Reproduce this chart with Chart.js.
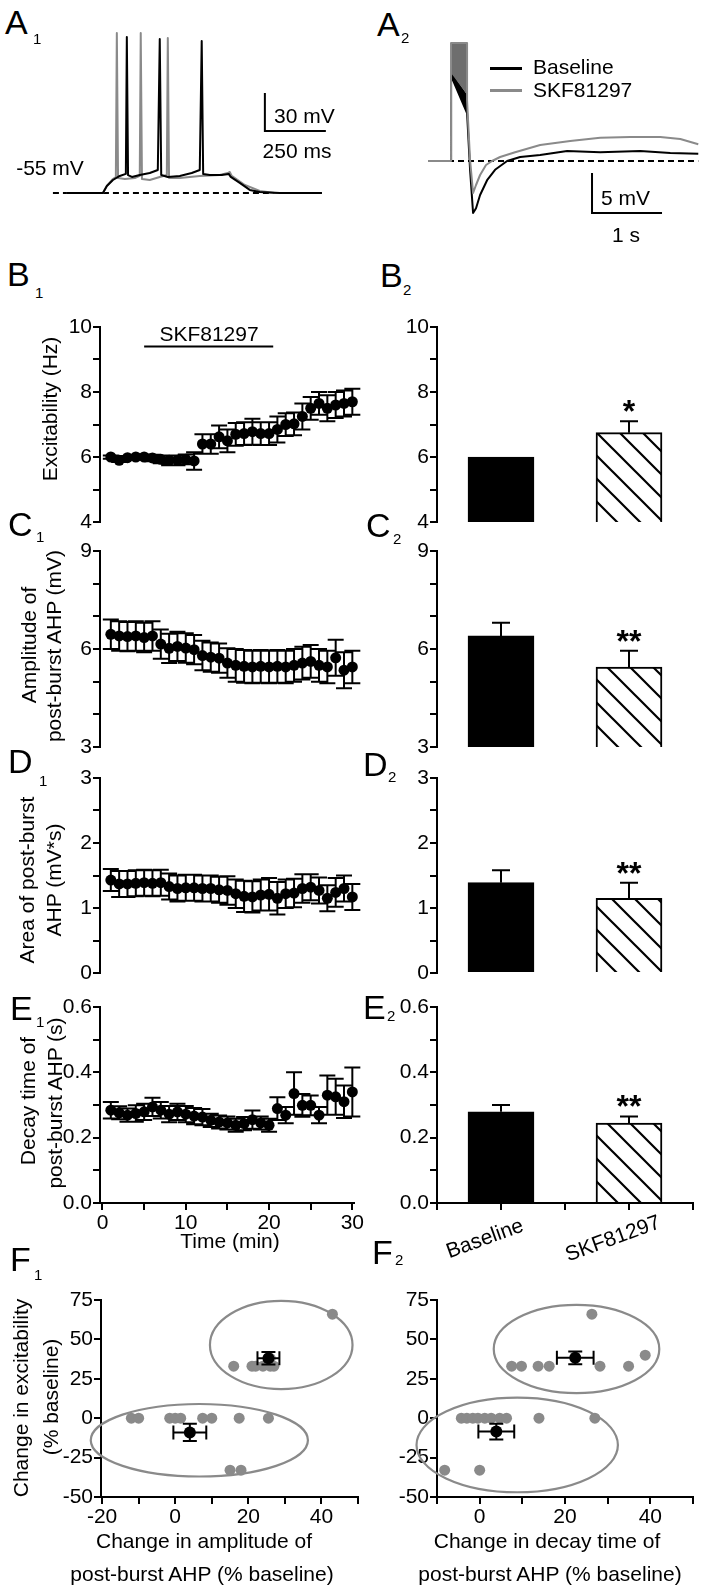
<!DOCTYPE html>
<html>
<head>
<meta charset="utf-8">
<script src="https://cdn.jsdelivr.net/npm/chart.js@4.4.0/dist/chart.umd.min.js"></script>
<style>
  html, body { margin: 0; padding: 0; background: #fff; }
  #fig { position: relative; width: 705px; height: 1591px; overflow: hidden;
         font-family: "Liberation Sans", Arial, sans-serif; color: #000; }
  #fig canvas { position: absolute; }
  .t { position: absolute; white-space: nowrap; line-height: 1; font-size: 21px; }
  .key { position: absolute; height: 3px; }
</style>
</head>
<body>
<div id="fig"></div>
<script>
// ---- A1: spike trains (ms, mV) ----
const a1Baseline = [[0,-55],[148,-55],[164,-49.5],[189,-44.8],[217,-41.6],[242,-40],[246,67.8],[251,-41],
  [267,-42.4],[299,-40.8],[340,-39.3],[373,-36.9],[381,66.2],[387,-40.8],[414,-42.4],[463,-41.6],[512,-39.3],
  [545,-36.9],[553,64.6],[559,-40],[586,-40.8],[635,-40.8],[664,-40],[672,-42.4],[709,-47.1],[750,-52.6],
  [791,-54.2],[873,-55],[1046,-55]];
const a1Skf = [[0,-55],[148,-55],[164,-49.5],[189,-44],[201,-42.4],[205,71],[210,-43.2],[238,-44],[279,-43.2],
  [299,-41.6],[303,71],[308,-44],[340,-44.8],[381,-42.4],[410,-40.8],[414,67],[419,-43.2],[463,-43.2],
  [545,-41.6],[627,-40.8],[660,-39.3],[668,-38.5],[676,-41.6],[730,-48.7],[791,-53.4],[853,-55],[1046,-55]];
const a1Rest = [[-57,-55],[1046,-55]];
const a1ScaleBar = [[812,23.8],[812,-6.2],[1062,-6.2]];

// ---- A2: post-burst AHP (ms, mV from rest) ----
const a2Baseline = [[0,0],[329,0],[330,10.6],[343,10.4],[558,6.0],[601,-1.1],[644,-6.5],[686,-5.9],[744,-4.25],
  [844,-2.4],[958,-1.1],[1130,0],[1316,0.5],[1602,0.75],[1988,1.25],[2460,1.1],[3032,1.25],[3461,1.0],[3861,0.9]];
const a2Skf = [[0,0],[329,0],[329,14.75],[558,14.75],[558,7.6],[601,0.1],[644,-4],[686,-3],[744,-1.75],[829,-0.5],
  [915,0],[1030,0.5],[1244,1.1],[1602,2],[2031,2.5],[2460,2.9],[2889,3],[3318,3],[3604,2.75],[3861,2.1]];
const a2BurstTop = [[329,14.75],[558,14.75]];
const a2BurstLow = [[329,11.0],[558,8.3]];
const a2WedgeTop = [[343,11.0],[558,8.3]];
const a2WedgeLow = [[343,10.4],[558,6.0]];
const a2Rest = [[0,0],[3861,0]];
const a2ScaleBar = [[2343,-1.5],[2343,-6.5],[3343,-6.5]];

// ---- B1-E1: time course ----
const minutes = [1,2,3,4,5,6,7,8,9,10,11,12,13,14,15,16,17,18,19,20,21,22,23,24,25,26,27,28,29,30];
const drugWindow = [5, 20.5];
const excitability = [6.0,5.9,5.98,6.0,6.0,5.97,5.93,5.9,5.9,5.93,5.88,6.4,6.4,6.62,6.5,6.7,6.72,6.78,6.72,6.72,
  6.85,7.0,7.02,7.25,7.5,7.65,7.5,7.6,7.65,7.7];
const excitabilitySem = [0.05,0.05,0.05,0.05,0.08,0.1,0.12,0.15,0.15,0.15,0.27,0.3,0.3,0.35,0.35,0.35,0.35,0.4,
  0.35,0.35,0.4,0.35,0.35,0.4,0.35,0.35,0.4,0.4,0.4,0.4];
const amplitude = [6.45,6.4,6.38,6.4,6.35,6.4,6.15,6.02,6.08,6.03,5.98,5.8,5.75,5.72,5.57,5.5,5.47,5.45,5.47,5.45,
  5.47,5.45,5.5,5.57,5.62,5.5,5.45,5.73,5.35,5.45];
const amplitudeSem = [0.45,0.45,0.45,0.45,0.45,0.45,0.45,0.45,0.45,0.45,0.45,0.45,0.45,0.45,0.45,0.5,0.5,0.5,0.5,
  0.5,0.5,0.5,0.5,0.5,0.5,0.5,0.5,0.55,0.55,0.5];
const ahpArea = [1.43,1.37,1.37,1.38,1.39,1.38,1.39,1.33,1.3,1.31,1.31,1.3,1.3,1.28,1.27,1.22,1.18,1.17,1.2,1.21,
  1.15,1.22,1.23,1.3,1.32,1.27,1.15,1.24,1.3,1.17];
const ahpAreaSem = [0.17,0.2,0.2,0.2,0.2,0.2,0.2,0.2,0.2,0.2,0.2,0.2,0.2,0.2,0.22,0.22,0.24,0.24,0.24,0.25,0.25,
  0.22,0.22,0.22,0.2,0.2,0.2,0.22,0.2,0.2];
const decay = [0.284,0.276,0.269,0.274,0.279,0.294,0.284,0.272,0.279,0.272,0.266,0.263,0.253,0.248,0.245,0.238,
  0.243,0.255,0.245,0.238,0.289,0.269,0.335,0.299,0.299,0.269,0.33,0.325,0.31,0.34];
const decaySem = [0.025,0.02,0.02,0.025,0.025,0.028,0.025,0.025,0.025,0.025,0.025,0.025,0.02,0.02,0.02,0.02,0.02,
  0.028,0.02,0.02,0.035,0.025,0.065,0.035,0.03,0.025,0.06,0.055,0.05,0.075];

// ---- B2-E2: group means ----
const groups = ['Baseline', 'SKF81297'];
const excitMean = [6.0, 6.75],  excitErr = [0, 0.35],    excitSig = ['', '*'];
const ampMean = [6.4, 5.45],    ampErr = [0.4, 0.5],     ampSig = ['', '**'];
const areaMean = [1.39, 1.15],  areaErr = [0.19, 0.24],  areaSig = ['', '**'];
const decayMean = [0.279, 0.245], decayErr = [0.021, 0.02], decaySig = ['', '**'];

// ---- F1/F2: single cells [change in AHP %, change in excitability %] ----
const f1Cells = [[16,33],[21,33],[22,33],[24,33],[26,33],[27,33],[26,38],[43,66],
  [-12,0],[-10,0],[-1.5,0],[0,0],[1.5,0],[7.5,0],[10,0],[17.5,0],[25.5,0],[15,-33],[18,-33]];
const f1Means = [[25.5,38],[4,-9]];
const f1ErrX = [3, 4.5], f1ErrY = [4, 5.5];
const f1Clusters = [[29,46.5,19.5,28],[6.6,-14,29.7,23]];  // centre x, centre y, radius x, radius y
const f2Cells = [[7.5,33],[9.8,33],[13.7,33],[16.3,33],[28.2,33],[34.9,33],[38.8,40],[26.3,66],
  [-4.3,0],[-3,0],[-1.6,0],[-0.4,0],[1.2,0],[2.7,0],[4.7,0],[6.3,0],[13.9,0],[27,0],[-8.2,-33],[0,-33]];
const f2Means = [[22.4,38.3],[3.9,-8.5]];
const f2ErrX = [4.3, 4.2], f2ErrY = [4, 5];
const f2Clusters = [[22.7,43.9,19.4,28],[8.8,-17,23.6,30]];

// ---- tick values ----
const timeTicks = [0,5,10,15,20,25,30];
const excitTicks = [4,5,6,7,8,9,10];
const ampTicks = [3,4,5,6,7,8,9];
const areaTicks = [0,0.5,1,1.5,2,2.5,3];
const decayTicks = [0,0.1,0.2,0.3,0.4,0.5,0.6];
const groupTicks = [0,0.5,1,1.5,2];
const changeYTicks = [-50,-25,0,25,50,75];
const f1XTicks = [-20,-10,0,10,20,30,40,50];
const f2XTicks = [-10,0,10,20,30,40,50];

const FONT = '"Liberation Sans", Arial, sans-serif';
const GRAY = '#8a8a8a';
const PAD_T = 16, PAD_R = 16;

Chart.defaults.font.family = FONT;
Chart.defaults.font.size = 21;
Chart.defaults.color = '#000';
Chart.defaults.animation = false;
Chart.defaults.events = [];
Chart.defaults.plugins.legend.display = false;
Chart.defaults.plugins.tooltip.enabled = false;

const fig = document.getElementById('fig');
const pts = arr => arr.map(([x, y]) => ({ x, y }));

function addCanvas(left, top, w, h) {
  const c = document.createElement('canvas');
  c.width = w; c.height = h;
  c.style.left = left + 'px'; c.style.top = top + 'px';
  c.style.width = w + 'px'; c.style.height = h + 'px';
  fig.appendChild(c);
  return c;
}

function put(text, x, y, opt = {}) {
  const d = document.createElement('div');
  d.className = 't';
  d.textContent = text;
  d.style.left = x + 'px';
  d.style.top = y + 'px';
  if (opt.size) d.style.fontSize = opt.size + 'px';
  let tf = opt.left ? 'translate(0,-50%)' : 'translate(-50%,-50%)';
  if (opt.rot) tf += ' rotate(' + opt.rot + 'deg)';
  d.style.transform = tf;
  fig.appendChild(d);
}

function panelLabel(letter, sub, x, capTop, sx, subTop) {
  put(letter, x, capTop + 12, { left: true, size: 34 });
  put(sub, sx, subTop + 5, { left: true, size: 15 });
}

// hatch fill for the drug bars
function makeHatch() {
  const s = 23, tile = document.createElement('canvas');
  tile.width = tile.height = s;
  const g = tile.getContext('2d');
  g.fillStyle = '#fff'; g.fillRect(0, 0, s, s);
  g.strokeStyle = '#000'; g.lineWidth = 2.2;
  g.beginPath();
  g.moveTo(-3, -3); g.lineTo(s + 3, s + 3);
  g.moveTo(s - 4, -4); g.lineTo(s + 4, 4);
  g.moveTo(-4, s - 4); g.lineTo(4, s + 4);
  g.stroke();
  return g.createPattern(tile, 'repeat');
}
const hatch = makeHatch();

// error bars, drawn just before their own dataset
const errorBars = {
  id: 'errorBars',
  beforeDatasetDraw(chart, args) {
    const ds = chart.data.datasets[args.index];
    if (!ds.errY && !ds.errX) return;
    const ctx = chart.ctx, xs = args.meta.xScale, ys = args.meta.yScale;
    const cap = ds.cap || 8;
    const seg = (x1, y1, x2, y2) => { ctx.moveTo(x1, y1); ctx.lineTo(x2, y2); };
    ctx.save();
    ctx.strokeStyle = '#000';
    ctx.lineWidth = 2;
    ctx.beginPath();
    ds.data.forEach((p, i) => {
      const px = xs.getPixelForValue(p.x), py = ys.getPixelForValue(p.y);
      const ey = ds.errY ? ds.errY[i] : 0;
      if (ey) {
        const top = ys.getPixelForValue(p.y + ey);
        const bot = ds.upOnly ? py : ys.getPixelForValue(p.y - ey);
        seg(px, top, px, bot);
        seg(px - cap, top, px + cap, top);
        if (!ds.upOnly) seg(px - cap, bot, px + cap, bot);
      }
      const ex = ds.errX ? ds.errX[i] : 0;
      if (ex) {
        const l = xs.getPixelForValue(p.x - ex), r = xs.getPixelForValue(p.x + ex);
        seg(l, py, r, py);
        seg(l, py - cap, l, py + cap);
        seg(r, py - cap, r, py + cap);
      }
    });
    ctx.stroke();
    ctx.restore();
  }
};

// significance stars over bars
const stars = {
  id: 'stars',
  afterDatasetsDraw(chart) {
    const ctx = chart.ctx;
    chart.data.datasets.forEach((ds, di) => {
      if (!ds.sig) return;
      const meta = chart.getDatasetMeta(di);
      ds.data.forEach((p, i) => {
        if (!ds.sig[i]) return;
        const x = meta.xScale.getPixelForValue(p.x);
        const y = meta.yScale.getPixelForValue(p.y + (ds.errY ? ds.errY[i] : 0));
        ctx.save();
        ctx.font = 'bold 32px ' + FONT;
        ctx.fillStyle = '#000';
        ctx.textAlign = 'center';
        ctx.textBaseline = 'alphabetic';
        ctx.fillText(ds.sig[i], x, y + 1);
        ctx.restore();
      });
    });
  }
};

function ellipses(list) {
  return {
    id: 'ellipses',
    beforeDatasetsDraw(chart) {
      const ctx = chart.ctx, xs = chart.scales.x, ys = chart.scales.y;
      ctx.save();
      ctx.strokeStyle = GRAY;
      ctx.lineWidth = 2.2;
      list.forEach(([cx, cy, rx, ry]) => {
        const px = xs.getPixelForValue(cx), py = ys.getPixelForValue(cy);
        const prx = Math.abs(xs.getPixelForValue(cx + rx) - px);
        const pry = Math.abs(ys.getPixelForValue(cy + ry) - py);
        ctx.beginPath();
        ctx.ellipse(px, py, prx, pry, 0, 0, Math.PI * 2);
        ctx.stroke();
      });
      ctx.restore();
    }
  };
}

const groupLabels = {
  id: 'groupLabels',
  afterDraw(chart) {
    const ctx = chart.ctx, xs = chart.scales.x;
    groups.forEach((g, i) => {
      ctx.save();
      ctx.translate(xs.getPixelForValue(i + 0.5) - 16, chart.chartArea.bottom + 36);
      ctx.rotate(-20 * Math.PI / 180);
      ctx.font = '21px ' + FONT;
      ctx.fillStyle = '#000';
      ctx.textAlign = 'center';
      ctx.textBaseline = 'middle';
      ctx.fillText(g, 0, 0);
      ctx.restore();
    });
  }
};

function axis(min, max, tickVals, fmt, opts = {}) {
  return Object.assign({
    type: 'linear', min, max, offset: false,
    afterBuildTicks: s => { s.ticks = tickVals.map(v => ({ value: v })); },
    ticks: { autoSkip: false, padding: 1, maxRotation: 0, callback: v => fmt(v) },
    grid: { drawOnChartArea: false, offset: false, color: '#000', lineWidth: 2, tickLength: 7 },
    border: { color: '#000', width: 2 }
  }, opts);
}

const even = v => (Math.round(v) % 2 === 0 ? String(v) : '');
const by3 = v => (Math.round(v) % 3 === 0 ? String(v) : '');
const whole = v => (Math.abs(v - Math.round(v)) < 1e-6 ? String(Math.round(v)) : '');
const tenths = v => (Math.round(v * 10) % 2 === 0 ? v.toFixed(1) : '');
const tens = v => (Math.round(v) % 10 === 0 ? String(v) : '');
const twenties = v => (Math.round(v) % 20 === 0 ? String(v) : '');
const all = v => String(v);
const none = () => '';

// place a chart so its plot area lands on [left, top, width, height]
function plotChart(area, padL, padB, showX, xScale, yScale, datasets, type, plugins) {
  const [l, t, w, h] = area;
  const c = addCanvas(l - padL, t - PAD_T, w + padL + PAD_R, h + PAD_T + padB);
  yScale.afterFit = s => { s.width = padL; };
  xScale.display = showX;
  if (showX) xScale.afterFit = s => { s.height = padB; };
  return new Chart(c, {
    type,
    data: { datasets },
    options: {
      responsive: false, devicePixelRatio: 1,
      layout: { padding: { top: PAD_T, right: PAD_R, left: 0, bottom: showX ? 0 : padB } },
      scales: { x: xScale, y: yScale }
    },
    plugins: [errorBars, stars].concat(plugins || [])
  });
}

function timeCourse(area, showX, yMin, yMax, yTicks, yFmt, values, sem, extra) {
  const ds = [{
    data: minutes.map((m, i) => ({ x: m, y: values[i] })),
    errY: sem, cap: 8, pointRadius: 5.5, backgroundColor: '#000', borderWidth: 0, clip: false
  }].concat(extra || []);
  plotChart(area, area[0], showX ? 45 : 16, showX,
    axis(-0.3, 30.2, timeTicks, tens), axis(yMin, yMax, yTicks, yFmt), ds, 'scatter');
}

function groupBars(area, showX, yMin, yMax, yTicks, yFmt, means, errs, sig) {
  const ds = [{
    data: means.map((m, i) => ({ x: i + 0.5, y: m })),
    errY: errs, upOnly: true, cap: 9, sig,
    backgroundColor: ['#000', hatch], borderColor: '#000', borderWidth: 2,
    barThickness: 66, borderSkipped: 'start'
  }];
  plotChart(area, area[0] - 360, showX ? 75 : 16, showX,
    axis(0, 2, groupTicks, none), axis(yMin, yMax, yTicks, yFmt), ds, 'bar',
    showX ? [groupLabels] : []);
}

function changePlot(area, xMin, xTicks, cells, means, errX, errY, clusters) {
  const ds = [
    { data: pts(means), errX, errY, cap: 7, pointRadius: 6, backgroundColor: '#000', borderWidth: 0, clip: false },
    { data: pts(cells), pointRadius: 5.5, backgroundColor: GRAY, borderWidth: 0, clip: false }
  ];
  plotChart(area, area[0] - (area[0] > 300 ? 360 : 0), 45, true,
    axis(xMin, 50, xTicks, twenties), axis(-50, 75, changeYTicks, all), ds, 'scatter',
    [ellipses(clusters)]);
}

function traceChart(left, top, w, h, xr, yr, datasets) {
  const c = addCanvas(left, top, w, h);
  new Chart(c, {
    type: 'scatter',
    data: { datasets },
    options: {
      responsive: false, devicePixelRatio: 1,
      layout: { padding: 0 },
      scales: {
        x: { type: 'linear', display: false, min: xr[0], max: xr[1] },
        y: { type: 'linear', display: false, min: yr[0], max: yr[1] }
      }
    }
  });
}

const trace = (arr, color, extra) => Object.assign({
  data: pts(arr), showLine: true, pointRadius: 0, borderColor: color, borderWidth: 2,
  borderJoinStyle: 'round', tension: 0, clip: false, fill: false
}, extra || {});

// ---- A1 ----
traceChart(40, 20, 300, 200, [-110, 1120], [-76.3, 81.2], [
  trace(a1Baseline, '#000'),
  trace(a1Skf, GRAY),
  trace(a1Rest, '#000', { borderDash: [6, 4] }),
  trace(a1ScaleBar, '#000', { borderJoinStyle: 'miter' })
]);

// ---- A2 ----
traceChart(400, 20, 305, 220, [-400, 3957], [-9.875, 17.625], [
  trace(a2Skf, GRAY),
  trace(a2Baseline, '#000'),
  trace(a2BurstTop, GRAY, { borderWidth: 0, fill: '+1', backgroundColor: '#6e6e6e' }),
  trace(a2BurstLow, GRAY, { borderWidth: 0 }),
  trace(a2WedgeTop, '#000', { borderWidth: 0, fill: '+1', backgroundColor: '#000' }),
  trace(a2WedgeLow, '#000', { borderWidth: 0 }),
  trace(a2Rest, '#000', { borderDash: [6, 4] }),
  trace(a2ScaleBar, '#000', { borderJoinStyle: 'miter' })
]);

// ---- B1-E1 ----
timeCourse([100, 327, 254, 195], false, 4, 10, excitTicks, even, excitability, excitabilitySem, [
  { data: drugWindow.map(t => ({ x: t, y: 9.4 })), showLine: true, pointRadius: 0,
    borderColor: '#000', borderWidth: 2, clip: false }
]);
timeCourse([100, 551, 254, 196], false, 3, 9, ampTicks, by3, amplitude, amplitudeSem);
timeCourse([100, 778, 254, 195], false, 0, 3, areaTicks, whole, ahpArea, ahpAreaSem);
timeCourse([100, 1007, 254, 196], true, 0, 0.6, decayTicks, tenths, decay, decaySem);

// ---- B2-E2 ----
groupBars([437, 327, 256, 195], false, 4, 10, excitTicks, even, excitMean, excitErr, excitSig);
groupBars([437, 551, 256, 196], false, 3, 9, ampTicks, by3, ampMean, ampErr, ampSig);
groupBars([437, 778, 256, 195], false, 0, 3, areaTicks, whole, areaMean, areaErr, areaSig);
groupBars([437, 1007, 256, 196], true, 0, 0.6, decayTicks, tenths, decayMean, decayErr, decaySig);

// ---- F1, F2 ----
changePlot([101, 1300, 257, 197], -20.3, f1XTicks, f1Cells, f1Means, f1ErrX, f1ErrY, f1Clusters);
changePlot([437, 1300, 256, 197], -10, f2XTicks, f2Cells, f2Means, f2ErrX, f2ErrY, f2Clusters);

// ---- text ----
panelLabel('A', '1', 5, 10, 33, 33);
panelLabel('A', '2', 377, 12, 401, 32);
panelLabel('B', '1', 7, 262, 35, 287);
panelLabel('B', '2', 380, 263, 403, 284);
panelLabel('C', '1', 8, 512, 36, 531);
panelLabel('C', '2', 366, 513, 393, 533);
panelLabel('D', '1', 8, 749, 39, 775);
panelLabel('D', '2', 363, 752, 388, 771);
panelLabel('E', '1', 10, 996, 36, 1016);
panelLabel('E', '2', 363, 995, 387, 1010);
panelLabel('F', '1', 10, 1247, 34, 1269);
panelLabel('F', '2', 372, 1240, 395, 1254);

put('-55 mV', 50, 167);
put('30 mV', 274, 115, { left: true });
put('250 ms', 297, 150);
put('5 mV', 601, 197, { left: true });
put('1 s', 626, 234);
put('Baseline', 533, 66, { left: true });
put('SKF81297', 533, 89, { left: true });
[['#000', 68], [GRAY, 90]].forEach(([col, y]) => {
  const k = document.createElement('div');
  k.className = 'key';
  k.style.cssText += `left:490px;top:${y - 1.5}px;width:32px;background:${col};`;
  fig.appendChild(k);
});

put('SKF81297', 209, 333);
put('Excitability (Hz)', 49, 409, { rot: -90 });
put('Amplitude of', 28, 645, { rot: -90 });
put('post-burst AHP (mV)', 53, 646, { rot: -90 });
put('Area of post-burst', 26, 880, { rot: -90 });
put('AHP (mV*s)', 53, 880, { rot: -90 });
put('Decay time of', 27, 1101, { rot: -90 });
put('post-burst AHP (s)', 54, 1103, { rot: -90 });
put('Time (min)', 230, 1240);
put('Change in excitability', 20, 1398, { rot: -90 });
put('(% baseline)', 50, 1397, { rot: -90 });
put('Change in amplitude of', 204, 1540);
put('post-burst AHP (% baseline)', 202, 1573);
put('Change in decay time of', 547, 1540);
put('post-burst AHP (% baseline)', 550, 1573);
</script>
</body>
</html>
